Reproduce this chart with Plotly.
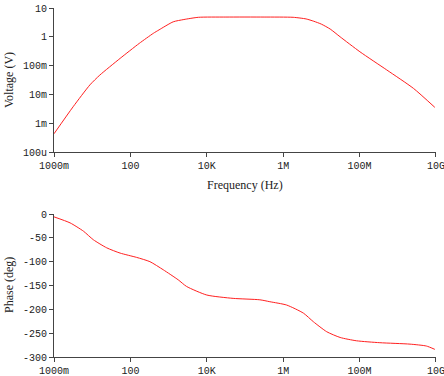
import plotly.graph_objects as go

# Magnitude response (frequency in Hz, voltage in V)
mag_freq = [1, 3.16, 8.71, 15.8, 53.7, 170, 398, 562, 1318, 2512, 6026, 31623, 316228,
            1820000, 3980000, 6310000, 10000000, 17000000, 30900000, 102000000,
            513000000, 2570000000, 9330000000]
mag_volt = [4.3e-4, 3.72e-3, 0.0214, 0.0468, 0.178, 0.589, 1.32, 1.74, 3.31, 3.98, 4.75,
            4.85, 4.85, 4.75, 4.17, 3.47, 2.75, 1.86, 1.0, 0.302, 0.0708, 0.0162, 0.00355]

# Phase response (frequency in Hz, phase in degrees)
ph_freq = [1, 2.63, 5.89, 10.7, 24, 53.7, 145, 324, 724, 1778, 2951, 10000, 49000,
           245000, 447000, 1230000, 3390000, 6170000, 13800000, 30900000, 83200000,
           339000000, 2090000000, 5620000000, 9330000000]
ph_deg = [-6, -18.6, -36, -54, -71, -82, -91, -100, -117, -138, -152, -170, -177,
          -180, -184, -191, -208, -226, -247, -259, -266, -270, -273, -277, -284]

x_tickvals = [1, 100, 1e4, 1e6, 1e8, 1e10]
x_ticktext = ["1000m", "100", "10K", "1M", "100M", "10G"]
v_tickvals = [1e-4, 1e-3, 1e-2, 1e-1, 1, 10]
v_ticktext = ["100u", "1m", "10m", "100m", "1", "10"]
p_tickvals = [0, -50, -100, -150, -200, -250, -300]
p_ticktext = ["0", "-50", "-100", "-150", "-200", "-250", "-300"]

RED = "#ff2020"
AX = "#444444"
TICKFONT = dict(family="Liberation Mono, DejaVu Sans Mono, monospace", size=10, color="#222222")
TITLEFONT = dict(family="Liberation Serif, DejaVu Serif, serif", size=12, color="#222222")

fig = go.Figure()
fig.add_trace(go.Scatter(x=mag_freq, y=mag_volt, mode="lines",
                         line=dict(color=RED, width=1, shape="spline", smoothing=0.6),
                         xaxis="x", yaxis="y", showlegend=False, hoverinfo="skip"))
fig.add_trace(go.Scatter(x=ph_freq, y=ph_deg, mode="lines",
                         line=dict(color=RED, width=1, shape="spline", smoothing=0.6),
                         xaxis="x2", yaxis="y2", showlegend=False, hoverinfo="skip"))

common_x = dict(type="log", range=[-0.0005, 10.0005], tickvals=x_tickvals, ticktext=x_ticktext,
                showgrid=False, zeroline=False, showline=True, linecolor=AX, linewidth=1,
                ticks="outside", ticklen=4, tickcolor=AX, tickfont=TICKFONT, automargin=False,
                ticklabeloverflow="allow")
common_y = dict(showgrid=False, zeroline=False, showline=True, linecolor=AX, linewidth=1,
                ticks="outside", ticklen=4, tickcolor=AX, tickfont=TICKFONT, automargin=False,
                ticklabeloverflow="allow")

H = 376
plot_h = H - 8 - 19

def frac(py):
    return (357 - py) / plot_h

fig.update_layout(
    template="none",
    width=444, height=376,
    margin=dict(l=54, r=8, t=8, b=19, autoexpand=False),
    paper_bgcolor="white", plot_bgcolor="white",
    xaxis=dict(domain=[0, 1], anchor="y", **common_x),
    yaxis=dict(domain=[frac(152), frac(8)], anchor="x", type="log", range=[-4, 1],
               tickvals=v_tickvals, ticktext=v_ticktext, **common_y),
    xaxis2=dict(domain=[0, 1], anchor="y2", **common_x),
    yaxis2=dict(domain=[0, frac(214)], anchor="x2", range=[-300, 0],
                tickvals=p_tickvals, ticktext=p_ticktext, **common_y),
    annotations=[
        dict(text="Frequency (Hz)", x=0.5, y=frac(185), xref="paper", yref="paper",
             xanchor="center", yanchor="middle", showarrow=False, font=TITLEFONT),
        dict(text="Voltage (V)", x=(9 - 54) / 382, y=frac(80), xref="paper", yref="paper",
             xanchor="center", yanchor="middle", textangle=-90, showarrow=False, font=TITLEFONT),
        dict(text="Phase (deg)", x=(9 - 54) / 382, y=frac(285), xref="paper", yref="paper",
             xanchor="center", yanchor="middle", textangle=-90, showarrow=False, font=TITLEFONT),
    ],
)

fig.write_html("out.html", config={"displayModeBar": False},
               post_script="document.body.style.margin='0px';document.body.style.padding='0px';")
